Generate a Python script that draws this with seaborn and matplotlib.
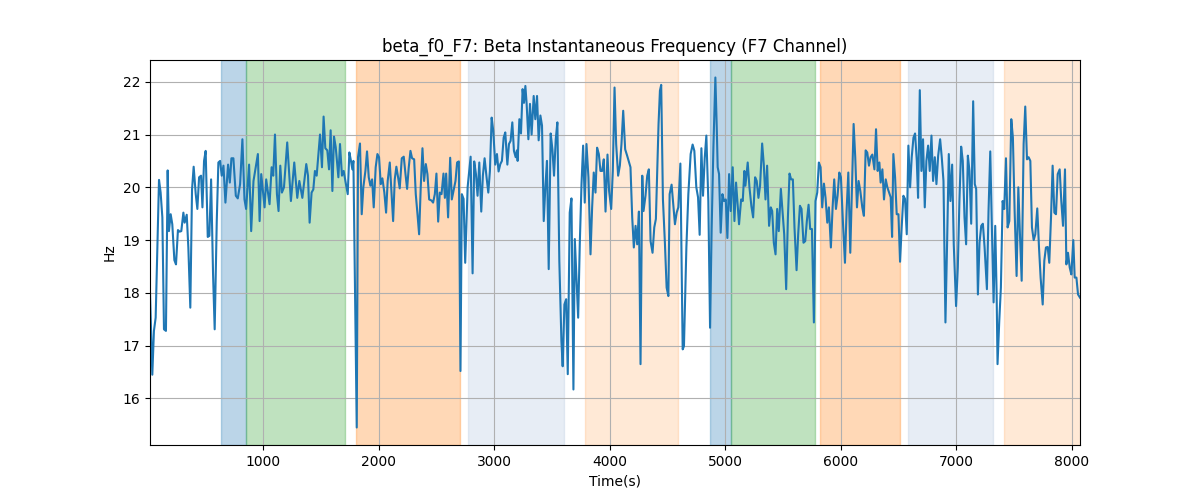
import matplotlib
matplotlib.use("Agg")
import matplotlib.pyplot as plt
import seaborn as sns

# Beta instantaneous frequency, F7 channel
time_s = [
    20, 40, 54, 69, 98, 112, 127, 141, 158, 173,
    184, 199, 213, 231, 245, 262, 277, 291, 309, 320,
    338, 352, 369, 384, 398, 416, 430, 445, 462, 474,
    488, 502, 520, 534, 549, 566, 580, 598, 612, 627,
    641, 656, 673, 696, 711, 725, 742, 763, 780, 800,
    820, 838, 852, 878, 896, 916,
    954, 969, 983, 1012, 1026, 1055, 1073, 1087, 1102, 1119,
    1133, 1148, 1162, 1180, 1208, 1240, 1269, 1295, 1313, 1339,
    1373, 1388, 1402, 1419, 1434, 1448, 1463, 1492, 1509, 1523,
    1538, 1555, 1570, 1584, 1599, 1613, 1628, 1651, 1665, 1682,
    1697, 1714, 1732, 1746, 1760, 1772, 1781, 1810,
    1821, 1838, 1853, 1867, 1885, 1899, 1914, 1928, 1943, 1957,
    1974, 1989, 2003, 2018, 2032, 2049, 2064, 2078, 2096, 2110,
    2125, 2139, 2153, 2168, 2182, 2200, 2217, 2232, 2246, 2260,
    2275, 2289, 2307, 2321, 2336, 2350, 2364, 2379, 2393, 2408,
    2422, 2437, 2457, 2471, 2486, 2500, 2515, 2529, 2544, 2561,
    2573, 2584, 2601, 2619, 2633, 2648, 2665, 2679, 2694, 2708,
    2720, 2735, 2749, 2770, 2796, 2813, 2827, 2842, 2856, 2871,
    2888, 2902, 2917, 2934, 2949, 2963, 2978, 2992, 3009, 3024,
    3038, 3053, 3067, 3082, 3096, 3114, 3128, 3142, 3157, 3171,
    3186, 3197, 3203, 3218, 3232, 3246, 3258, 3270, 3281, 3296,
    3310, 3324, 3342, 3356, 3371, 3385, 3400, 3414, 3429, 3443,
    3457, 3472, 3489, 3504, 3518, 3533, 3547, 3564, 3582, 3593,
    3608, 3623, 3637, 3654, 3669, 3686, 3698, 3712, 3727, 3741,
    3756, 3770, 3784, 3799, 3816, 3834, 3848, 3862, 3877, 3891,
    3906, 3920, 3935, 3949, 3964, 3981, 3995, 4013, 4027, 4042,
    4056, 4073, 4088, 4102, 4117, 4134, 4151, 4180, 4195, 4209,
    4224, 4238, 4253, 4267, 4282, 4293, 4310, 4325, 4339, 4354,
    4371, 4386, 4400, 4423, 4435, 4446, 4461, 4478,
    4493, 4508, 4519, 4536, 4565, 4580, 4594, 4612, 4623, 4632,
    4643, 4664, 4681, 4701, 4718, 4733, 4750, 4765, 4779, 4794,
    4808, 4823, 4837, 4854, 4869, 4883, 4898, 4915, 4927, 4935,
    4947, 4961, 4976, 4990, 5005, 5019, 5034, 5048, 5065, 5080,
    5094, 5120, 5138, 5152, 5166, 5175, 5195, 5210, 5227, 5242,
    5259, 5273, 5288, 5302, 5320, 5334, 5349, 5363, 5380,
    5395, 5407, 5421, 5436, 5450, 5464, 5482, 5496, 5511, 5528,
    5543, 5557, 5571, 5586, 5600, 5618, 5632, 5647, 5661, 5678,
    5693, 5707, 5722, 5736, 5751, 5768, 5782, 5797, 5811, 5826,
    5840, 5855, 5869, 5884, 5898, 5915, 5930, 5944, 5959, 5973,
    5988, 6002, 6019, 6037, 6051, 6066, 6083, 6097, 6112, 6126,
    6141, 6155, 6170, 6187, 6201, 6216, 6230, 6245, 6259, 6274,
    6292, 6306, 6320, 6335, 6346, 6361, 6375, 6390, 6404, 6419,
    6433, 6445, 6456, 6471, 6485, 6500, 6514, 6528, 6543, 6557,
    6572, 6586, 6601, 6615, 6630, 6644, 6659, 6670, 6685, 6699,
    6713, 6728, 6742, 6757, 6771, 6786, 6800, 6815, 6829, 6844,
    6861, 6875, 6890, 6907, 6922, 6936, 6950, 6965, 6979, 6999,
    7014, 7028, 7043, 7057, 7072, 7086, 7101, 7115, 7130, 7147,
    7161,
    7173, 7188, 7202, 7217, 7231, 7246, 7266, 7280, 7295, 7309,
    7324, 7338, 7350, 7358, 7373, 7387, 7402, 7416, 7431, 7445,
    7460, 7477, 7491, 7506, 7523, 7538, 7552, 7567, 7584, 7598,
    7613, 7627, 7642, 7656, 7671, 7685, 7702, 7717, 7731, 7749,
    7763, 7777, 7792, 7806, 7821, 7835, 7850, 7864, 7879, 7896,
    7910, 7925, 7942, 7954, 7968, 7983, 7997, 8014, 8026, 8041,
    8055, 8072,
]

beta_hz = [
    18.0, 16.45, 17.28, 17.53, 20.14, 19.9, 19.43, 17.31, 17.28, 20.32,
    19.17, 19.49, 19.3, 18.62, 18.54, 19.19, 19.16, 19.17, 19.52, 19.33,
    19.48, 18.86, 17.72, 19.96, 20.39, 19.87, 19.59, 20.19, 20.22, 19.62,
    20.5, 20.69, 19.06, 19.08, 20.15, 18.35, 17.31, 19.36, 20.47, 20.5,
    20.22, 20.41, 19.71, 20.43, 20.09, 20.55, 20.55, 19.84, 19.79, 20.06,
    20.91, 19.77, 19.59, 20.43, 19.17, 20.12,
    20.63, 19.36, 20.25, 19.62, 20.15, 19.68, 20.38, 20.22, 21.0, 19.87,
    19.55, 20.41, 19.9, 20.0, 20.85, 19.74, 20.47, 19.8, 20.12, 19.8,
    20.44, 20.22, 19.33, 19.9, 19.96, 20.31, 20.22, 21.0, 20.38, 21.34,
    20.74, 20.7, 20.34, 21.08, 19.93, 20.96, 20.76, 20.19, 20.82, 20.22,
    20.31, 20.09, 19.87, 20.66, 20.5, 20.34, 20.5, 15.45,
    20.57, 20.83, 19.49, 20.0, 20.31, 20.68, 20.19, 20.03, 20.15, 19.62,
    20.38, 20.63, 20.57, 20.06, 20.17, 19.9, 19.52, 20.12, 20.47, 19.93,
    19.36, 20.15, 20.39, 20.19, 19.98, 20.55, 20.58, 20.25, 19.97, 20.37,
    20.69, 20.55, 20.53, 19.87, 19.49, 19.11, 20.0, 20.74, 20.12, 20.44,
    20.25, 19.77, 19.75, 19.71, 19.87, 20.26, 19.35, 19.9, 19.87, 20.26,
    19.8, 20.26, 19.43, 20.56, 19.77, 19.93, 20.12, 20.47, 20.49, 16.52,
    19.87, 19.78, 18.57, 20.0, 20.58, 18.37, 20.49, 20.25, 19.84, 20.47,
    19.54, 20.22, 20.55, 20.19, 19.9, 20.31, 21.32, 21.07, 20.43, 20.63,
    20.3, 20.44, 20.5, 20.94, 21.04, 20.43, 20.82, 20.88, 21.23, 20.69,
    20.57, 20.7, 20.5, 21.29, 21.02, 21.86, 21.6, 21.92, 21.58, 20.91,
    21.58, 21.0, 21.73, 21.29, 21.73, 20.89, 21.36, 21.17, 19.36, 20.0,
    20.5, 18.45, 21.02, 20.72, 20.22, 20.91, 21.23, 18.6, 17.09, 16.61,
    17.78, 17.88, 16.46, 19.52, 19.79, 16.17, 19.02, 18.29, 17.53, 18.92,
    20.06, 20.79, 19.71, 20.82, 20.19, 18.73, 19.62, 20.28, 19.9, 20.75,
    20.63, 20.31, 20.31, 20.53, 19.54, 20.62, 19.93, 19.59, 20.31, 21.89,
    20.82, 20.22, 20.41, 20.82, 21.45, 20.72, 20.6, 20.38, 19.43, 18.86,
    19.27, 18.92, 19.54, 16.65, 20.22, 19.55, 19.84, 20.22, 20.34, 18.98,
    18.76, 19.24, 19.4, 21.2, 21.83, 21.94, 19.77, 18.95,
    18.1, 17.94, 19.87, 20.05, 19.3, 19.52, 19.62, 20.45, 18.6, 16.93,
    16.99, 18.86, 19.87, 20.63, 20.81, 20.69, 20.0, 19.81, 19.1, 20.74,
    19.84, 20.56, 20.98, 19.74, 17.34, 19.24, 20.76, 22.08, 21.13, 20.38,
    20.25, 19.14, 19.87, 19.74, 19.77, 19.04, 20.25, 19.55, 20.38, 19.36,
    20.09, 19.3, 19.77, 19.74, 20.31, 20.03, 20.47, 20.0, 19.64, 19.43,
    20.19, 20.12, 19.8, 20.03, 20.83, 20.44, 19.77, 20.41, 19.27,
    19.62, 19.55, 18.95, 18.73, 19.59, 19.17, 19.97, 19.55, 19.11, 18.07,
    19.43, 20.26, 20.15, 20.15, 19.24, 18.43, 19.11, 19.65, 19.59, 18.95,
    18.98, 19.36, 19.67, 19.21, 19.21, 17.44, 19.74, 19.9, 20.47, 20.38,
    19.62, 20.07, 19.8, 19.33, 19.62, 18.86, 19.62, 20.15, 19.59, 19.84,
    20.28, 20.19, 19.36, 18.57, 19.55, 20.28, 18.76, 19.96, 21.2, 20.57,
    19.62, 20.12, 19.93, 19.62, 19.46, 20.7, 20.66, 20.41, 20.57, 20.62,
    20.34, 21.1, 20.31, 20.47, 20.09, 20.34, 19.77, 20.15, 20.0, 19.9,
    19.81, 19.06, 20.63, 20.19, 19.49, 19.49, 18.59, 19.24, 19.84, 19.78,
    19.11, 20.79, 20.0, 20.57, 20.94, 21.02, 20.5, 19.8, 21.84, 20.31,
    20.91, 19.62, 20.5, 20.79, 20.31, 20.98, 20.12, 20.57, 20.06, 20.6,
    20.91, 20.57, 20.12, 17.44, 19.02, 20.63, 19.74, 20.43, 18.92, 17.75,
    18.48, 19.74, 20.77, 20.5, 19.43, 18.92, 20.6, 20.31, 19.31, 21.63,
    20.06,
    19.97, 17.97, 18.95, 19.27, 19.31, 18.86, 18.07, 19.55, 20.68, 19.24,
    17.82, 19.27, 18.0, 16.65, 17.47, 18.1, 19.74, 19.59, 20.55, 19.24,
    19.36, 21.29, 20.94, 19.55, 18.32, 20.0, 19.11, 18.23, 20.82, 21.53,
    20.53, 20.57, 20.5, 19.24, 19.0, 19.11, 19.6, 18.86, 18.29, 17.78,
    18.61, 18.86, 18.87, 18.57, 19.43, 20.41, 19.52, 19.49, 20.25, 20.34,
    19.74, 19.27, 20.34, 18.54, 18.76, 18.48, 18.35, 19.0, 18.29, 18.29,
    17.97, 17.91,
]

# Shaded segments (start, end in seconds)
span_start = [636, 853, 1806, 2770, 3784, 4868, 5050, 5822, 6586, 7410]
span_end = [853, 1704, 2700, 3603, 4591, 5050, 5779, 6516, 7323, 8078]
span_color = ['tab:blue', 'tab:green', 'tab:orange', 'lightsteelblue', 'tab:orange',
              'tab:blue', 'tab:green', 'tab:orange', 'lightsteelblue', 'tab:orange']
span_alpha = [0.3, 0.3, 0.3, 0.3, 0.17, 0.3, 0.3, 0.3, 0.3, 0.17]

assert len(time_s) == len(beta_hz)

fig, ax = plt.subplots(figsize=(12, 5), dpi=100)

for s, e, c, a in zip(span_start, span_end, span_color, span_alpha):
    ax.axvspan(s, e, color=c, alpha=a)

sns.lineplot(x=time_s, y=beta_hz, ax=ax, color='tab:blue', linewidth=1.5)

ax.set_xlim(time_s[0], time_s[-1])
ax.grid(True)
ax.set_title('beta_f0_F7: Beta Instantaneous Frequency (F7 Channel)')
ax.set_xlabel('Time(s)')
ax.set_ylabel('Hz')

fig.savefig('out.png')
